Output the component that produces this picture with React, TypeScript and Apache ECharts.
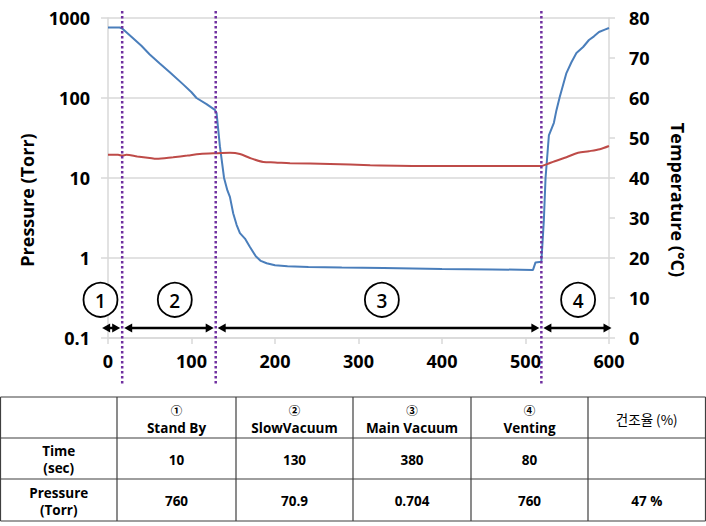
import React, { useEffect, useRef } from "react";
import * as echarts from "echarts";

// ---- data ----
const pressureTime = [0, 14, 17, 26, 40, 50, 62, 74, 90, 100, 106, 118, 128, 130, 134, 139, 143, 146, 150, 154, 158, 164, 170, 177, 183, 190, 200, 215, 240, 280, 330, 400, 460, 509, 512, 519, 522, 524, 528, 534, 537, 541, 549, 555, 561, 569, 576, 582, 588, 595, 600];
const pressureTorr = [760, 760, 740, 610, 450, 350, 270, 210, 148, 118, 100, 84, 71, 65, 25, 10, 7, 5.8, 3.6, 2.6, 2.05, 1.75, 1.37, 1.05, 0.92, 0.86, 0.81, 0.79, 0.77, 0.76, 0.75, 0.73, 0.72, 0.71, 0.88, 0.9, 3, 10, 34, 49, 70, 103, 205, 280, 365, 434, 531, 590, 668, 715, 750];
const tempTime = [0, 12, 17, 22, 35, 50, 58, 78, 95, 110, 130, 146, 158, 170, 186, 200, 218, 266, 314, 386, 434, 519, 525, 535, 549, 563, 576, 589, 600];
const tempC = [45.8, 45.8, 45.6, 45.8, 45.4, 45.0, 44.8, 45.2, 45.6, 46.0, 46.2, 46.3, 46.0, 45.0, 44.0, 43.9, 43.7, 43.5, 43.2, 43.0, 43.0, 43.0, 43.4, 44.2, 45.2, 46.3, 46.7, 47.2, 48.0];

const phaseBounds = [17, 129, 519];
const arrowStops = [-7, 17, 129, 519, 603];
const phaseLabels = ["1", "2", "3", "4"];
const phaseLabelTime = [-9, 80, 328, 563];
const phaseLabelTorr = 0.3;
const arrowTorr = 0.1334;

const tableHeader = ["", "①\nStand By", "②\nSlowVacuum", "③\nMain Vacuum", "④\nVenting", "건조율 (%)"];
const timeRow = ["Time\n(sec)", "10", "130", "380", "80", ""];
const pressureRow = ["Pressure\n(Torr)", "760", "70.9", "0.704", "760", "47 %"];

const FONT = "'Open Sans', 'Noto Sans CJK KR', sans-serif";
const KFONT = "'Noto Sans CJK KR', 'Open Sans', sans-serif";

export default function App() {
  const ref = useRef<HTMLDivElement>(null);
  useEffect(() => {
    document.body.style.margin = "0";
    const chart = echarts.init(ref.current!, null, { renderer: "svg" });
    const grid = "#D9D9D9";
    const labelStyle = { fontFamily: FONT, fontWeight: "bold" as const, fontSize: 18, color: "#000" };
    chart.setOption({
      animation: false,
      backgroundColor: "#fff",
      grid: { left: 108, right: 97, top: 18, bottom: 188 },
      xAxis: {
        type: "value", min: 0, max: 600, interval: 100,
        axisLine: { show: true, lineStyle: { color: grid, width: 1.5 } },
        axisTick: { show: true, length: 6, lineStyle: { color: grid, width: 1.5 } },
        splitLine: { show: false },
        axisLabel: { ...labelStyle, margin: 14 },
      },
      yAxis: [
        {
          type: "log", logBase: 10, min: 0.1, max: 1000,
          axisLine: { show: true, lineStyle: { color: grid, width: 1.5 } },
          axisTick: { show: true, length: 7, lineStyle: { color: grid, width: 1.5 } },
          splitLine: { show: true, lineStyle: { color: grid, width: 1.5 } },
          axisLabel: { ...labelStyle, margin: 18, formatter: (v: number) => (v < 1 ? String(Number(v.toPrecision(2))) : String(Math.round(v))) },
        },
        {
          type: "value", min: 0, max: 80, interval: 10, position: "right",
          axisLine: { show: true, lineStyle: { color: grid, width: 1.5 } },
          axisTick: { show: true, length: 6, lineStyle: { color: grid, width: 1.5 } },
          splitLine: { show: false },
          axisLabel: { ...labelStyle, margin: 20 },
        },
      ],
      series: [
        {
          type: "line", yAxisIndex: 0, showSymbol: false, smooth: false,
          lineStyle: { color: "#4A7EBB", width: 2 }, itemStyle: { color: "#4A7EBB" },
          data: pressureTime.map((t, i) => [t, pressureTorr[i]]), z: 3,
        },
        {
          type: "line", yAxisIndex: 1, showSymbol: false, smooth: 0.3,
          lineStyle: { color: "#BE4B48", width: 2 }, itemStyle: { color: "#BE4B48" },
          data: tempTime.map((t, i) => [t, tempC[i]]), z: 4,
        },
      ],
    });

    const px = (t: number, p: number) => chart.convertToPixel({ xAxisIndex: 0, yAxisIndex: 0 } as any, [t, p]) as number[];
    const g: any[] = [];
    // axis titles
    g.push({ type: "text", x: 27, y: 200, rotation: Math.PI / 2, z: 10,
      style: { text: "Pressure (Torr)", fontFamily: FONT, fontWeight: "bold", fontSize: 18, fill: "#000", align: "center", verticalAlign: "middle" } });
    g.push({ type: "text", x: 678, y: 200, rotation: -Math.PI / 2, z: 10,
      style: { text: "Temperature (°C)", fontFamily: FONT, fontWeight: "bold", fontSize: 18, fill: "#000", align: "center", verticalAlign: "middle" } });

    // dotted phase boundaries
    phaseBounds.forEach((t) => {
      const [x] = px(t, 1);
      g.push({ type: "line", z: 8, shape: { x1: x, y1: 11, x2: x, y2: 384 },
        style: { stroke: "#7030A0", lineWidth: 2.5, lineDash: [2.5, 2.5] } });
    });

    // double arrows
    const ay = px(0, arrowTorr)[1];
    for (let i = 0; i < arrowStops.length - 1; i++) {
      const x1 = px(arrowStops[i], 1)[0] + (i === 0 ? 0 : 2);
      const x2 = px(arrowStops[i + 1], 1)[0] - (i === arrowStops.length - 2 ? 0 : 2);
      const h = 8, w = 4.5;
      g.push({ type: "line", z: 9, shape: { x1: x1 + 4, y1: ay, x2: x2 - 4, y2: ay }, style: { stroke: "#000", lineWidth: 2.5 } });
      g.push({ type: "polygon", z: 9, shape: { points: [[x1, ay], [x1 + h, ay - w], [x1 + h, ay + w]] }, style: { fill: "#000" } });
      g.push({ type: "polygon", z: 9, shape: { points: [[x2, ay], [x2 - h, ay - w], [x2 - h, ay + w]] }, style: { fill: "#000" } });
    }

    // circled phase numbers
    phaseLabelTime.forEach((t, i) => {
      const [cx, cy] = px(t, phaseLabelTorr);
      g.push({ type: "circle", z: 9, shape: { cx, cy, r: 17 }, style: { fill: "#fff", stroke: "#000", lineWidth: 1.8 } });
      g.push({ type: "text", z: 10, x: cx, y: cy + 1,
        style: { text: phaseLabels[i], fontFamily: FONT, fontSize: 19, fontWeight: 600, fill: "#000", align: "center", verticalAlign: "middle" } });
    });

    // table
    const cols = [0.5, 117, 236, 353, 471, 588, 705.5];
    const rows = [397, 438, 479, 521];
    const border = "#3F3F3F";
    rows.forEach((y) => g.push({ type: "line", z: 5, shape: { x1: cols[0], y1: y, x2: cols[cols.length - 1], y2: y }, style: { stroke: border, lineWidth: 1.2 } }));
    cols.forEach((x) => g.push({ type: "line", z: 5, shape: { x1: x, y1: rows[0], x2: x, y2: rows[rows.length - 1] }, style: { stroke: border, lineWidth: 1.2 } }));
    const tableRows = [tableHeader, timeRow, pressureRow];
    tableRows.forEach((row, r) => {
      row.forEach((txt, c) => {
        if (!txt) return;
        const cx = (cols[c] + cols[c + 1]) / 2;
        const cy = (rows[r] + rows[r + 1]) / 2 + 1;
        const light = r === 0 && c === 5;
        const lines = txt.split("\n");
        lines.forEach((ln, k) => {
          const isSym = /^[①②③④]$/.test(ln);
          const gap = r === 0 ? 18 : 17;
          const y = cy + (k - (lines.length - 1) / 2) * gap + (r === 0 && lines.length > 1 ? 0.5 : 0);
          g.push({ type: "text", z: 6, x: cx, y,
            style: { text: ln, fontFamily: light || isSym ? KFONT : FONT, fontSize: isSym ? 11.5 : 13.5,
              fontWeight: light ? "normal" : "bold", fill: "#000",
              align: "center", verticalAlign: "middle", lineHeight: isSym ? 12 : 14 } });
        });
      });
    });

    chart.setOption({ graphic: g });
    return () => chart.dispose();
  }, []);
  return <div ref={ref} style={{ position: "absolute", left: 0, top: 0, width: 706, height: 526 }} />;
}
